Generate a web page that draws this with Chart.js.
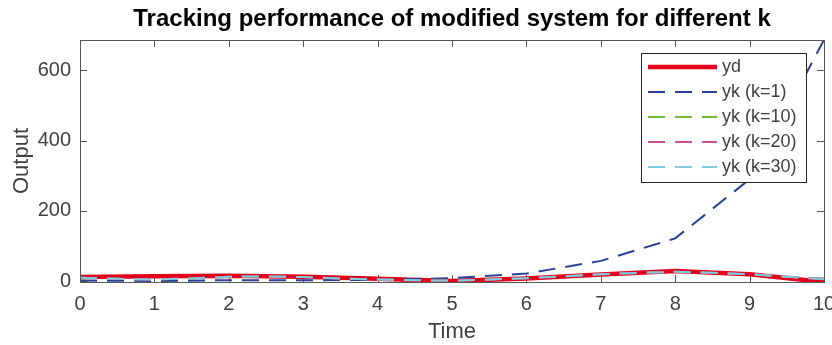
<!DOCTYPE html>
<html>
<head>
<meta charset="utf-8">
<script src="https://cdn.jsdelivr.net/npm/chart.js@4"></script>
<style>
  html, body { margin: 0; padding: 0; background: #fff; overflow: hidden; }
  #wrap { position: relative; width: 832px; height: 345px; }
</style>
</head>
<body>
<div id="wrap"><canvas id="chart"></canvas></div>
<script>
// Values
const xTicks = [0, 1, 2, 3, 4, 5, 6, 7, 8, 9, 10];
const yTicks = [0, 200, 400, 600];

const tCoarse = [0, 1, 2, 3, 4, 5, 6, 7, 8, 9, 10];
const tFine = [0, 0.5, 1, 1.5, 2, 2.5, 3, 3.5, 4, 4.5, 5, 5.5, 6, 6.5, 7, 7.5, 8, 8.5, 9, 9.5, 10];

const yd = [12, 14, 16, 13, 7, 1, 8, 19, 29, 20, -2];
const ykK1 = [2, 1, 3, 3, 4, 9, 22, 58, 122, 290, 686];
const ykK10 = [10, 7, 5, 8, 13, 14, 12, 8, 5, 3, 2, 5, 9, 14, 20, 24, 27, 24, 20, 13, 8];
const ykK20 = [10, 7, 5, 8, 13, 14, 12, 8, 5, 3, 2, 5, 9, 14, 20, 24, 27, 24, 20, 13, 7];
const ykK30 = [10, 7, 5, 8, 13, 14, 12, 8, 5, 3, 2, 5, 9, 14, 20, 24, 27, 24, 20, 13, 6];

const seriesLabels = ['yd', 'yk (k=1)', 'yk (k=10)', 'yk (k=20)', 'yk (k=30)'];

const FONT = "'Liberation Sans', Helvetica, Arial, sans-serif";
const TEXT = '#404040';

function pts(xs, ys) {
    return xs.map((x, i) => ({ x: x, y: ys[i] }));
}

// inward ticks + box, like the original axes
const axesBox = {
    id: 'axesBox',
    beforeDatasetsDraw(chart) {
        const { ctx, chartArea: a, scales } = chart;
        const len = 7;
        ctx.save();
        ctx.strokeStyle = '#555';
        ctx.lineWidth = 1;
        ctx.beginPath();
        xTicks.forEach(v => {
            const px = Math.round(scales.x.getPixelForValue(v)) + 0.5;
            ctx.moveTo(px, a.bottom); ctx.lineTo(px, a.bottom - len);
            ctx.moveTo(px, a.top); ctx.lineTo(px, a.top + len);
        });
        yTicks.forEach(v => {
            const py = Math.round(scales.y.getPixelForValue(v)) + 0.5;
            ctx.moveTo(a.left, py); ctx.lineTo(a.left + len, py);
            ctx.moveTo(a.right, py); ctx.lineTo(a.right - len, py);
        });
        ctx.stroke();
        ctx.restore();
    },
    afterDatasetsDraw(chart) {
        const { ctx, chartArea: a } = chart;
        ctx.save();
        ctx.strokeStyle = '#555';
        ctx.lineWidth = 1;
        ctx.strokeRect(Math.round(a.left) + 0.5, Math.round(a.top) + 0.5,
            Math.round(a.right - a.left), Math.round(a.bottom - a.top));
        ctx.restore();
    }
};

// legend box in the upper right corner of the axes
const boxLegend = {
    id: 'boxLegend',
    afterDraw(chart) {
        const { ctx, chartArea: a } = chart;
        const w = 165, rowH = 25, h = 129;
        const x0 = a.right - 18 - w, y0 = a.top + 13;
        ctx.save();
        ctx.fillStyle = '#fff';
        ctx.fillRect(x0, y0, w, h);
        ctx.strokeStyle = '#262626';
        ctx.lineWidth = 1;
        ctx.strokeRect(Math.round(x0) + 0.5, Math.round(y0) + 0.5, w, h);
        ctx.font = '18px ' + FONT;
        ctx.textBaseline = 'middle';
        ctx.fillStyle = TEXT;
        chart.data.datasets.forEach((ds, i) => {
            const cy = y0 + 14 + i * rowH;
            ctx.beginPath();
            ctx.strokeStyle = ds.borderColor;
            ctx.lineWidth = ds.borderWidth;
            ctx.setLineDash(ds.borderDash || []);
            ctx.moveTo(x0 + 7, cy);
            ctx.lineTo(x0 + 76, cy);
            ctx.stroke();
            ctx.setLineDash([]);
            ctx.fillText(ds.label, x0 + 81, cy);
        });
        ctx.restore();
    }
};

const dash = [17, 10];

new Chart(document.getElementById('chart'), {
    type: 'line',
    data: {
        datasets: [
            { label: seriesLabels[0], data: pts(tCoarse, yd), borderColor: '#e3001b', borderWidth: 4.5, order: 5 },
            { label: seriesLabels[1], data: pts(tCoarse, ykK1), borderColor: '#2b3f94', borderWidth: 2, borderDash: dash, order: 4 },
            { label: seriesLabels[2], data: pts(tFine, ykK10), borderColor: '#72b63a', borderWidth: 2, borderDash: dash, order: 3 },
            { label: seriesLabels[3], data: pts(tFine, ykK20), borderColor: '#c94f9b', borderWidth: 2, borderDash: dash, order: 2 },
            { label: seriesLabels[4], data: pts(tFine, ykK30), borderColor: '#80cbe0', borderWidth: 2, borderDash: dash, order: 1 }
        ]
    },
    options: {
        responsive: true,
        maintainAspectRatio: false,
        animation: false,
        layout: { padding: { left: 0, right: 8, top: 0, bottom: 0 } },
        elements: {
            point: { radius: 0 },
            line: { tension: 0, borderCapStyle: 'butt' }
        },
        plugins: {
            legend: { display: false },
            tooltip: { enabled: false },
            title: {
                display: true,
                fullSize: false,
                text: 'Tracking performance of modified system for different k',
                color: '#000',
                font: { family: FONT, size: 24, weight: 'bold' },
                padding: { top: 5, bottom: 6.2 }
            }
        },
        scales: {
            x: {
                type: 'linear',
                min: 0,
                max: 10,
                afterBuildTicks: s => { s.ticks = xTicks.map(v => ({ value: v })); },
                afterFit: s => { s.height = 63; s.paddingLeft = 0; s.paddingRight = 0; },
                grid: { display: false, drawTicks: false },
                border: { display: false },
                ticks: { color: TEXT, font: { family: FONT, size: 20 }, padding: 10, maxRotation: 0 },
                title: { display: true, text: 'Time', color: TEXT, font: { family: FONT, size: 22 }, padding: { top: 0, bottom: 0 } }
            },
            y: {
                min: -2,
                max: 686,
                afterBuildTicks: s => { s.ticks = yTicks.map(v => ({ value: v })); },
                afterFit: s => { s.width = 80; s.paddingTop = 0; s.paddingBottom = 0; },
                grid: { display: false, drawTicks: false },
                border: { display: false },
                ticks: { color: TEXT, font: { family: FONT, size: 20 }, padding: 9 },
                title: { display: true, text: 'Output', color: TEXT, font: { family: FONT, size: 22 }, padding: { top: 9, bottom: 0 } }
            }
        }
    },
    plugins: [axesBox, boxLegend]
});
</script>
</body>
</html>
